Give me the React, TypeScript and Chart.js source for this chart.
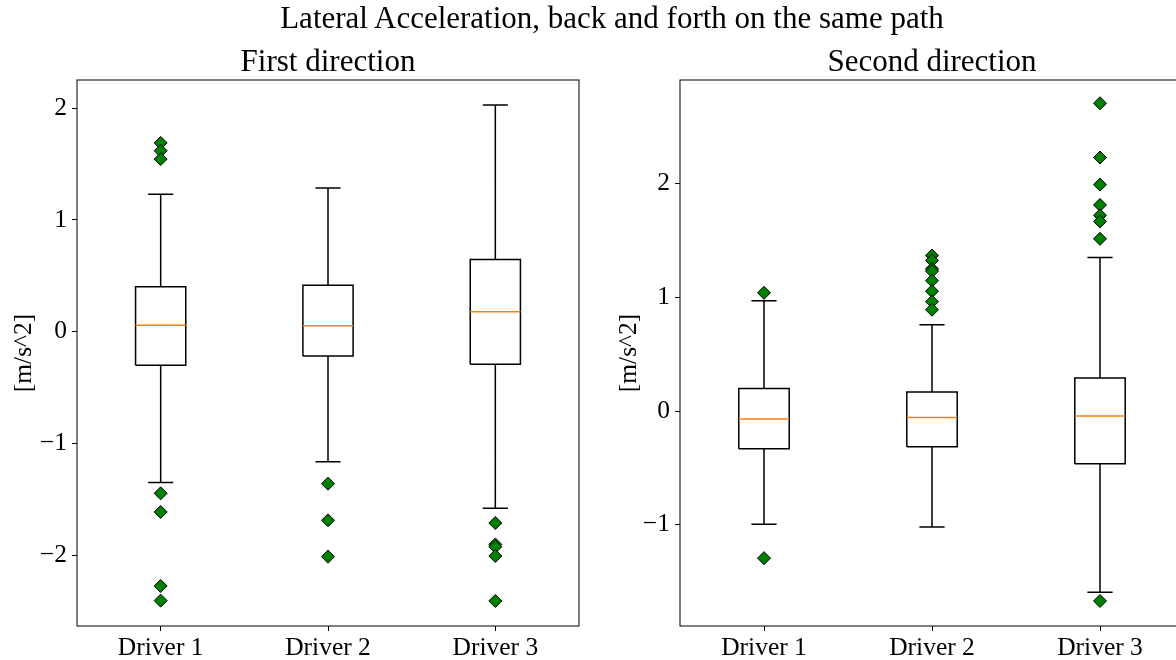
import React, { useEffect, useRef } from 'react';
import { Chart, registerables } from 'chart.js';

Chart.register(...registerables);

// ---------- data ----------
const drivers = ['Driver 1', 'Driver 2', 'Driver 3'];
const positions = [1, 2, 3];

const mainTitle = 'Lateral Acceleration, back and forth on the same path';
const firstTitle = 'First direction';
const secondTitle = 'Second direction';
const yLabel = '[m/s^2]';

// First direction
const firstLow = [-1.35, -1.164, -1.581];
const firstQ1 = [-0.3, -0.218, -0.292];
const firstMedian = [0.057, 0.054, 0.179];
const firstQ3 = [0.403, 0.415, 0.645];
const firstHigh = [1.23, 1.287, 2.03];
const firstOutliers1 = [1.69, 1.62, 1.545, -1.447, -1.614, -2.277, -2.408];
const firstOutliers2 = [-1.361, -1.689, -2.014];
const firstOutliers3 = [-1.713, -1.905, -1.925, -2.008, -2.411];
const firstYTicks = [-2, -1, 0, 1, 2];
const firstYMin = -2.635;
const firstYMax = 2.253;

// Second direction
const secondLow = [-0.997, -1.02, -1.594];
const secondQ1 = [-0.332, -0.314, -0.464];
const secondMedian = [-0.07, -0.056, -0.044];
const secondQ3 = [0.198, 0.168, 0.291];
const secondHigh = [0.97, 0.759, 1.35];
const secondOutliers1 = [1.04, -1.294];
const secondOutliers2 = [1.368, 1.324, 1.251, 1.231, 1.147, 1.054, 0.962, 0.891];
const secondOutliers3 = [2.707, 2.23, 1.992, 1.813, 1.721, 1.668, 1.515, -1.671];
const secondYTicks = [-1, 0, 1, 2];
const secondYMin = -1.891;
const secondYMax = 2.912;

// ---------- styling ----------
const SERIF = "'Liberation Serif', 'Times New Roman', serif";
const BOX_HALF = 0.15;
const CAP_HALF = 0.075;

type Pt = { x: number; y: number | null };

function buildDatasets(
  low: number[], q1: number[], med: number[], q3: number[], high: number[], outliers: number[][]
) {
  const box: Pt[] = [];
  const whisk: Pt[] = [];
  const medLine: Pt[] = [];
  const out: Pt[] = [];
  positions.forEach((p, i) => {
    box.push(
      { x: p - BOX_HALF, y: q1[i] }, { x: p + BOX_HALF, y: q1[i] },
      { x: p + BOX_HALF, y: q3[i] }, { x: p - BOX_HALF, y: q3[i] },
      { x: p - BOX_HALF, y: q1[i] }, { x: p, y: null }
    );
    whisk.push(
      { x: p, y: q1[i] }, { x: p, y: low[i] }, { x: p, y: null },
      { x: p - CAP_HALF, y: low[i] }, { x: p + CAP_HALF, y: low[i] }, { x: p, y: null },
      { x: p, y: q3[i] }, { x: p, y: high[i] }, { x: p, y: null },
      { x: p - CAP_HALF, y: high[i] }, { x: p + CAP_HALF, y: high[i] }, { x: p, y: null }
    );
    medLine.push({ x: p - BOX_HALF, y: med[i] }, { x: p + BOX_HALF, y: med[i] }, { x: p, y: null });
    outliers[i].forEach((v) => out.push({ x: p, y: v }));
  });
  const lineBase = { showLine: true, pointRadius: 0, pointHoverRadius: 0, spanGaps: false, fill: false };
  return [
    {
      label: 'outliers', data: out, showLine: false, pointStyle: 'rectRot', pointRadius: 6.5,
      pointHoverRadius: 6.5, backgroundColor: '#008000', borderColor: '#000000', borderWidth: 1,
    },
    { label: 'median', data: medLine, borderColor: '#ff7f0e', borderWidth: 1.5, ...lineBase },
    { label: 'whiskers', data: whisk, borderColor: '#000000', borderWidth: 1.5, ...lineBase },
    { label: 'box', data: box, borderColor: '#000000', borderWidth: 1.5, ...lineBase },
  ];
}

const framePlugin = {
  id: 'frame',
  afterDraw(chart: any) {
    const { ctx, chartArea } = chart;
    ctx.save();
    ctx.strokeStyle = '#000000';
    ctx.lineWidth = 1;
    ctx.strokeRect(chartArea.left, chartArea.top, chartArea.right - chartArea.left, chartArea.bottom - chartArea.top);
    ctx.restore();
  },
};

const fmt = (v: number) => (v < 0 ? '\u2212' + Math.abs(v) : String(v));

function makeConfig(opts: {
  title: string; datasets: any[]; yMin: number; yMax: number; yTicks: number[];
  yWidth: number; padRight: number; yTitlePad: number;
}) {
  const font = { family: SERIF, size: 25.5 };
  return {
    type: 'scatter',
    data: { datasets: opts.datasets },
    options: {
      animation: false,
      responsive: false,
      events: [],
      layout: { padding: { left: 0, right: opts.padRight, top: 0, bottom: 0 } },
      plugins: {
        legend: { display: false },
        tooltip: { enabled: false },
        title: {
          display: true, text: opts.title, fullSize: false, color: '#000000',
          font: { family: SERIF, size: 31, weight: 'normal', lineHeight: '34px' },
          padding: { top: 46, bottom: 0 },
        },
      },
      scales: {
        x: {
          type: 'linear', min: 0.5, max: 3.5,
          afterBuildTicks: (s: any) => { s.ticks = positions.map((v) => ({ value: v })); },
          afterFit: (s: any) => { s.height = 34; },
          ticks: {
            callback: (v: number) => drivers[positions.indexOf(v)] ?? '',
            font, color: '#000000', padding: 2, maxRotation: 0, autoSkip: false,
          },
          grid: { drawOnChartArea: false, drawTicks: true, tickLength: 5, color: '#000000' },
          border: { display: false },
        },
        y: {
          type: 'linear', min: opts.yMin, max: opts.yMax,
          afterBuildTicks: (s: any) => { s.ticks = opts.yTicks.map((v) => ({ value: v })); },
          afterFit: (s: any) => { s.width = opts.yWidth; },
          ticks: { callback: (v: number) => fmt(v), font, color: '#000000', padding: 5 },
          grid: { drawOnChartArea: false, drawTicks: true, tickLength: 5, color: '#000000' },
          border: { display: false },
          title: {
            display: true, text: yLabel, color: '#000000', font,
            padding: { top: opts.yTitlePad, bottom: 0 },
          },
        },
      },
    },
    plugins: [framePlugin],
  } as any;
}

function BoxChart(props: {
  title: string; datasets: any[]; yMin: number; yMax: number; yTicks: number[];
  yWidth: number; padRight: number; yTitlePad: number; left: number;
}) {
  const ref = useRef<HTMLCanvasElement | null>(null);
  useEffect(() => {
    if (!ref.current) return;
    const chart = new Chart(ref.current, makeConfig(props));
    return () => chart.destroy();
  }, []);
  return (
    <canvas
      ref={ref}
      width={600}
      height={660}
      style={{ position: 'absolute', left: props.left, top: 0, width: 600, height: 660 }}
    />
  );
}

export default function App() {
  const firstSets = buildDatasets(firstLow, firstQ1, firstMedian, firstQ3, firstHigh,
    [firstOutliers1, firstOutliers2, firstOutliers3]);
  const secondSets = buildDatasets(secondLow, secondQ1, secondMedian, secondQ3, secondHigh,
    [secondOutliers1, secondOutliers2, secondOutliers3]);
  return (
    <div style={{ position: 'absolute', left: 0, top: 0, width: 1176, height: 660, overflow: 'hidden', background: '#ffffff' }}>
      <BoxChart title={firstTitle} datasets={firstSets} yMin={firstYMin} yMax={firstYMax}
        yTicks={firstYTicks} yWidth={77} padRight={21} yTitlePad={9} left={0} />
      <BoxChart title={secondTitle} datasets={secondSets} yMin={secondYMin} yMax={secondYMax}
        yTicks={secondYTicks} yWidth={80} padRight={16} yTitlePad={14} left={600} />
      <div style={{
        position: 'absolute', left: 0, top: 0, width: 1224, textAlign: 'center',
        fontFamily: SERIF, fontSize: 31, lineHeight: '36px', color: '#000000',
      }}>{mainTitle}</div>
    </div>
  );
}
